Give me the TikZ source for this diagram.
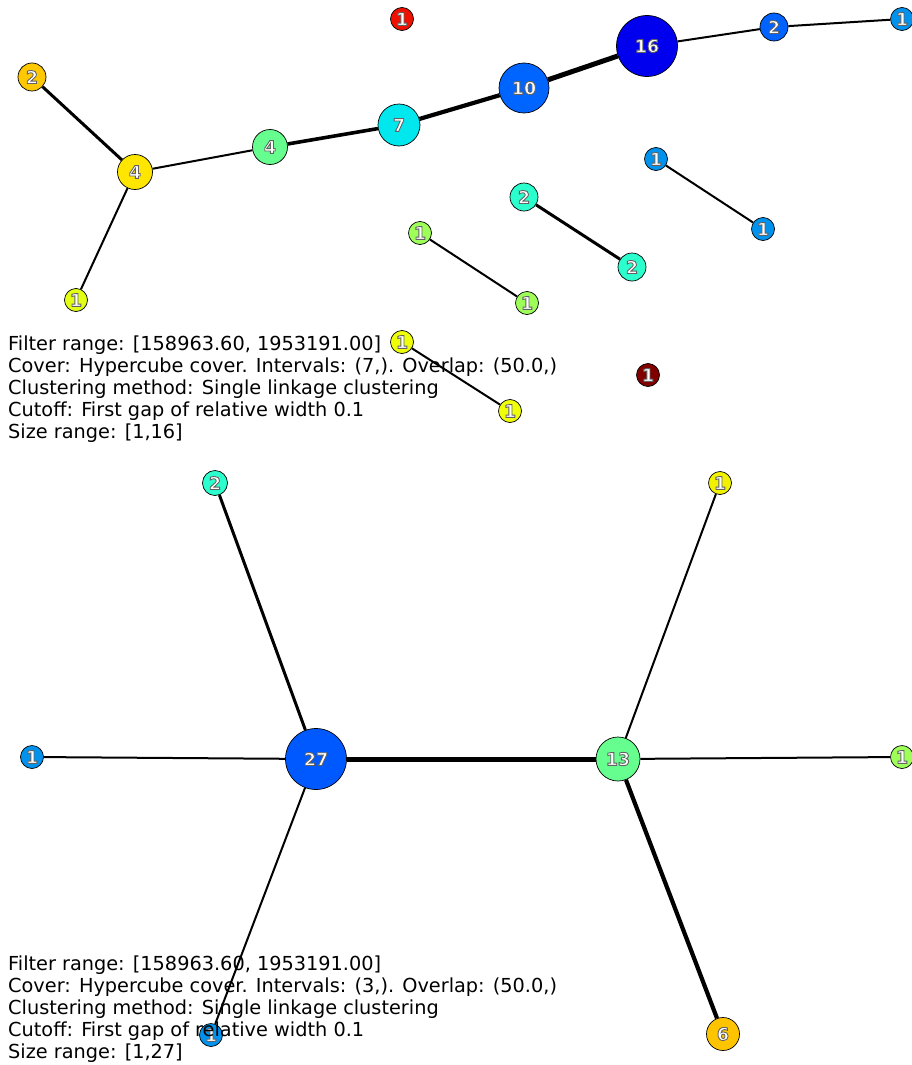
\documentclass[tikz,border=0pt]{standalone}
\usepackage{fontspec}
\setmainfont{DejaVu Sans}
\font\lblfont="DejaVu Sans/B:embolden=5" at 17.5pt
\definecolor{cRed}{HTML}{F01000}
\definecolor{cOrange}{HTML}{FFC800}
\definecolor{cYellow}{HTML}{FFE600}
\definecolor{cYelGreen}{HTML}{E2FF14}
\definecolor{cGreen}{HTML}{66FF8F}
\definecolor{cCyan}{HTML}{00E8EE}
\definecolor{cBlue}{HTML}{0064FF}
\definecolor{cDarkBlue}{HTML}{0000EE}
\definecolor{cBlue2}{HTML}{0062FF}
\definecolor{cLightBlue}{HTML}{0092EC}
\definecolor{cTeal}{HTML}{2AFFCD}
\definecolor{cLightGreen}{HTML}{9EFF59}
\definecolor{cYellow1}{HTML}{EEFF09}
\definecolor{cDarkRed}{HTML}{800000}
\definecolor{cYellowB}{HTML}{F2F100}
\definecolor{cBlue27}{HTML}{0058FF}
\definecolor{cOrange6}{HTML}{FFC400}
\newcommand{\outl}[1]{{\color{white}\special{pdf:code 0.38 0.38 0.38 RG}\lblfont #1}}
\newcommand{\nd}[5]{\node[vx,fill=#4,minimum size=#3pt] (#1) at (#2) {\outl{#5}};}
\begin{document}
\begin{tikzpicture}[x=1pt,y=-1pt,
  vx/.style={circle,draw=black,line width=0.7pt,inner sep=0pt},
  ea/.style={line width=2pt},
  eb/.style={line width=3pt},
  ec/.style={line width=3.6pt},
  ed/.style={line width=4.2pt},
  ee/.style={line width=5pt},
  info/.style={anchor=north west,inner sep=0pt,align=left,font=\fontsize{19.3}{22}\selectfont}]
\useasboundingbox (0,0) rectangle (912,1065);
% ---- top graph nodes
\nd{tR}{402,19}{23}{cRed}{1}
\nd{tO2}{32,77}{28}{cOrange}{2}
\nd{tY4}{135,172}{35}{cYellow}{4}
\nd{tYG1}{76,300}{23}{cYelGreen}{1}
\nd{tG4}{270,147}{35}{cGreen}{4}
\nd{tC7}{399,125}{42}{cCyan}{7}
\nd{tB10}{524,88}{50}{cBlue}{10}
\nd{tDB16}{647,46}{61}{cDarkBlue}{16}
\nd{tB2}{774,27}{28}{cBlue2}{2}
\nd{tLB1}{902,19}{23}{cLightBlue}{1}
\nd{tLB1a}{656,159}{23}{cLightBlue}{1}
\nd{tLB1b}{763,229}{23}{cLightBlue}{1}
\nd{tT2a}{524,197}{28}{cTeal}{2}
\nd{tT2b}{632,267}{28}{cTeal}{2}
\nd{tLG1a}{420,233}{23}{cLightGreen}{1}
\nd{tLG1b}{527,303}{23}{cLightGreen}{1}
\nd{tY1a}{402,342}{23}{cYellow1}{1}
\nd{tY1b}{510,411}{23}{cYellow1}{1}
\nd{tDR1}{648,375}{23}{cDarkRed}{1}
% ---- top graph edges
\draw[eb] (tO2) -- (tY4);
\draw[ea] (tY4) -- (tYG1);
\draw[ea] (tY4) -- (tG4);
\draw[ec] (tG4) -- (tC7);
\draw[ed] (tC7) -- (tB10);
\draw[ee] (tB10) -- (tDB16);
\draw[ea] (tDB16) -- (tB2);
\draw[ea] (tB2) -- (tLB1);
\draw[ea] (tLB1a) -- (tLB1b);
\draw[eb] (tT2a) -- (tT2b);
\draw[ea] (tLG1a) -- (tLG1b);
\draw[ea] (tY1a) -- (tY1b);
% ---- bottom graph nodes
\nd{bT2}{215,483}{25}{cTeal}{2}
\nd{bY1}{720,483}{23}{cYellowB}{1}
\nd{bLB1}{32,757}{23}{cLightBlue}{1}
\nd{b27}{316,759}{61}{cBlue27}{27}
\nd{b13}{618,759}{44}{cGreen}{13}
\nd{bLG1}{902,757}{23}{cLightGreen}{1}
\nd{bB1}{211,1035}{23}{cLightBlue}{1}
\nd{bO6}{723,1034}{33}{cOrange6}{6}
% ---- bottom graph edges
\draw[eb] (bT2) -- (b27);
\draw[ea] (bLB1) -- (b27);
\draw[ea] (b27) -- (bB1);
\draw[ee] (b27) -- (b13);
\draw[ea] (b13) -- (bY1);
\draw[ea] (b13) -- (bLG1);
\draw[ed] (b13) -- (bO6);
% ---- info texts
\node[info] (infoTop) at (8,336) {Filter range: [158963.60, 1953191.00]\\Cover: Hypercube cover. Intervals: (7,). Overlap: (50.0,)\\Clustering method: Single linkage clustering\\Cutoff: First gap of relative width 0.1\\Size range: [1,16]};
\node[info] (infoBot) at (8,956) {Filter range: [158963.60, 1953191.00]\\Cover: Hypercube cover. Intervals: (3,). Overlap: (50.0,)\\Clustering method: Single linkage clustering\\Cutoff: First gap of relative width 0.1\\Size range: [1,27]};
\end{tikzpicture}
\end{document}
